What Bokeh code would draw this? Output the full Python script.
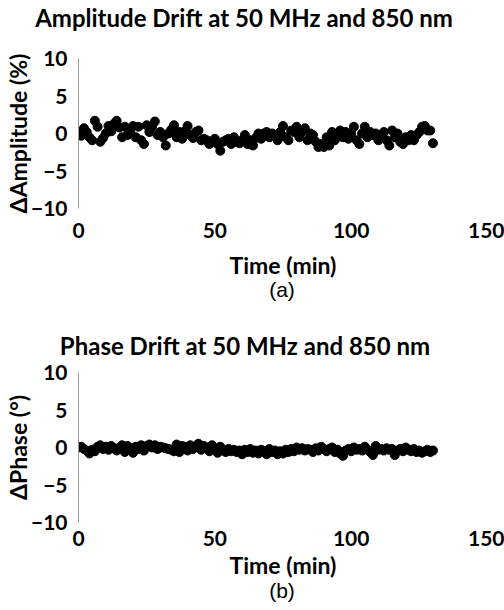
from bokeh.plotting import figure
from bokeh.layouts import column
from bokeh.models import FixedTicker, Range1d, Div, ColumnDataSource
from bokeh.embed import file_html
from bokeh.resources import INLINE

# ---- data ----
time_min = [0, 1, 2, 3, 4, 5, 6, 7, 8, 9, 10, 11, 12, 13, 14, 15, 16, 17, 18, 19,
            20, 21, 22, 23, 24, 25, 26, 27, 28, 29, 30, 31, 32, 33, 34, 35, 36, 37, 38, 39,
            40, 41, 42, 43, 44, 45, 46, 47, 48, 49, 50, 51, 52, 53, 54, 55, 56, 57, 58, 59,
            60, 61, 62, 63, 64, 65, 66, 67, 68, 69, 70, 71, 72, 73, 74, 75, 76, 77, 78, 79,
            80, 81, 82, 83, 84, 85, 86, 87, 88, 89, 90, 91, 92, 93, 94, 95, 96, 97, 98, 99,
            100, 101, 102, 103, 104, 105, 106, 107, 108, 109, 110, 111, 112, 113, 114, 115,
            116, 117, 118, 119, 120, 121, 122, 123, 124, 125, 126, 127, 128, 129, 130]

amplitude_drift = [0.0, -0.3, 0.7, 0.2, -0.5, -0.9, 1.7, 0.9, -1.1, -0.6,
                   0.0, 1.0, 0.3, 1.3, 1.7, 0.8, -0.5, 0.9, -0.2, 0.2,
                   1.0, -0.5, 0.9, -0.9, -1.4, 1.1, 0.2, 0.9, 1.6, -0.2,
                   0.2, -0.5, -1.6, 0.0, 0.5, 1.1, -0.5, 0.2, -0.7, 0.3,
                   1.0, -0.2, -0.6, 0.2, 0.4, -0.9, -0.7, -0.9, -1.4, -1.0,
                   -0.7, -1.4, -2.3, -1.1, -0.9, -0.7, -1.4, -0.5, -1.1, -1.3,
                   -0.9, -0.2, -1.4, -0.9, -1.6, -0.6, 0.0, -0.7, 0.0, 0.2,
                   -0.5, 0.0, -0.2, -0.9, 0.2, 1.0, -0.5, -0.9, 0.4, 0.2,
                   0.9, -0.5, 0.2, 0.7, -0.9, 0.0, -0.2, -1.1, -1.8, -1.4,
                   -1.8, -0.5, -1.6, 0.2, -0.9, 0.0, 0.4, -0.5, 0.2, -0.7,
                   0.0, 0.9, -0.9, -1.4, 0.0, 0.9, -0.5, 0.2, -0.2, 0.0,
                   -0.9, -0.5, 0.2, -0.9, -1.6, 0.4, -0.5, 0.0, -1.1, -1.4,
                   -0.5, -0.9, -0.2, -0.9, -0.2, 0.2, 0.9, 1.0, 0.4, 0.4,
                   -1.3]

phase_drift = [0.0, 0.1, -0.2, -0.4, -0.8, -0.3, -0.5, 0.1, 0.3, -0.2,
               0.1, -0.3, 0.2, -0.1, -0.4, 0.0, 0.3, -0.6, 0.2, -0.3,
               -0.7, 0.1, -0.2, 0.3, -0.4, 0.2, 0.4, 0.0, 0.3, -0.2,
               0.1, 0.0, -0.1, -0.2, -0.3, -0.5, 0.4, -0.6, 0.2, 0.1,
               -0.4, 0.3, -0.2, 0.1, 0.5, -0.3, 0.2, 0.0, -0.5, 0.3,
               -0.2, -0.7, 0.1, -0.4, -0.6, -0.2, -0.5, -0.3, -0.6, -0.4,
               -0.9, -0.3, -0.6, -0.2, -0.7, -0.4, -0.8, -0.3, -0.5, -0.9,
               -0.2, -0.6, -0.4, -0.9, -0.5, -0.8, -0.3, -0.6, -0.2, -0.5,
               0.0, -0.3, -0.1, -0.4, -0.2, -0.3, -0.6, -0.1, -0.4, 0.1,
               -0.2, -0.5, -0.2, 0.0, -0.6, -0.3, -0.8, -1.1, -0.4, -0.2,
               -0.5, 0.0, -0.3, -0.2, -0.4, 0.1, -0.3, -0.6, -1.0, 0.2,
               -0.3, -0.2, -0.4, -0.1, -0.3, -0.2, -1.0, -0.4, -0.2, -0.5,
               0.0, -0.3, -0.5, -0.2, -0.6, -0.4, -0.7, -0.5, -0.3, -0.6,
               -0.4]

x_ticks = [0, 50, 100, 150]
y_ticks = [-10, -5, 0, 5, 10]
y_tick_labels = {-10: "\u221210", -5: "\u22125", 0: "0", 5: "5", 10: "10"}

titles = ["Amplitude Drift at 50 MHz and 850 nm", "Phase Drift at 50 MHz and 850 nm"]
y_titles = ["\u0394Amplitude (%)", "\u0394Phase (\u00b0)"]
x_title = "Time (min)"
sub_labels = ["(a)", "(b)"]

BOLD_FONT = "Lato"
AXIS_GRAY = "#9a9a9a"
W = 504


def text_div(text, height, line_height, font, size, bold, width_css):
    style = ("margin:0;padding:0;white-space:nowrap;color:#000;"
             f"font-family:'{font}';font-size:{size}px;"
             f"font-weight:{'bold' if bold else 'normal'};"
             f"line-height:{line_height}px;text-align:center;{width_css}")
    return Div(text=f'<div style="{style}">{text}</div>', width=W, height=height,
               margin=(0, 0, 0, 0))


def make_panel(ylabel, ydata, height, border_top, border_bottom,
               xlab_standoff, xtitle_standoff):
    p = figure(width=W, height=height, output_backend="svg", toolbar_location=None,
               x_range=Range1d(0, 150), y_range=Range1d(-10, 10),
               min_border_left=78, min_border_right=17,
               min_border_top=border_top, min_border_bottom=border_bottom)
    p.outline_line_color = None
    p.grid.visible = False
    p.background_fill_color = "white"
    p.border_fill_color = "white"

    src = ColumnDataSource(dict(t=time_min, v=ydata))
    p.scatter("t", "v", source=src, size=9, color="black", line_color="black")

    xa = p.xaxis[0]
    xa.ticker = FixedTicker(ticks=x_ticks)
    xa.axis_line_color = None
    xa.major_tick_line_color = None
    xa.minor_tick_line_color = None
    xa.major_label_text_font = BOLD_FONT
    xa.major_label_text_font_style = "bold"
    xa.major_label_text_font_size = "21px"
    xa.major_label_text_color = "black"
    xa.major_label_standoff = xlab_standoff
    xa.axis_label = x_title
    xa.axis_label_text_font = BOLD_FONT
    xa.axis_label_text_font_style = "bold"
    xa.axis_label_text_font_size = "23px"
    xa.axis_label_text_color = "black"
    xa.axis_label_standoff = xtitle_standoff

    ya = p.yaxis[0]
    ya.ticker = FixedTicker(ticks=y_ticks)
    ya.major_label_overrides = y_tick_labels
    ya.axis_line_color = AXIS_GRAY
    ya.axis_line_width = 1
    ya.major_tick_line_color = None
    ya.minor_tick_line_color = None
    ya.major_label_text_font = BOLD_FONT
    ya.major_label_text_font_style = "bold"
    ya.major_label_text_font_size = "21px"
    ya.major_label_text_color = "black"
    ya.major_label_standoff = 5
    ya.axis_label = ylabel
    ya.axis_label_text_font = BOLD_FONT
    ya.axis_label_text_font_style = "bold"
    ya.axis_label_text_font_size = "23px"
    ya.axis_label_text_color = "black"
    ya.axis_label_standoff = -4
    return p


title_a = text_div(titles[0], 36, 35, BOLD_FONT, 24, True, "width:488px;")
top = make_panel(y_titles[0], amplitude_drift, 248, 22, 76, 8, 10)
sub_a = text_div(sub_labels[0], 49, 12, "Liberation Sans", 21, False,
                 "box-sizing:border-box;width:504px;padding-left:60px;")
title_b = text_div(titles[1], 25, 25, BOLD_FONT, 24, True, "width:490px;")
bottom = make_panel(y_titles[1], phase_drift, 226, 14, 62, 2, 2)
sub_b = text_div(sub_labels[1], 24, 14, "Liberation Sans", 21, False,
                 "box-sizing:border-box;width:504px;padding-left:60px;")

layout = column(title_a, top, sub_a, title_b, bottom, sub_b, spacing=0)
open("out.html", "w").write(file_html(layout, INLINE))
